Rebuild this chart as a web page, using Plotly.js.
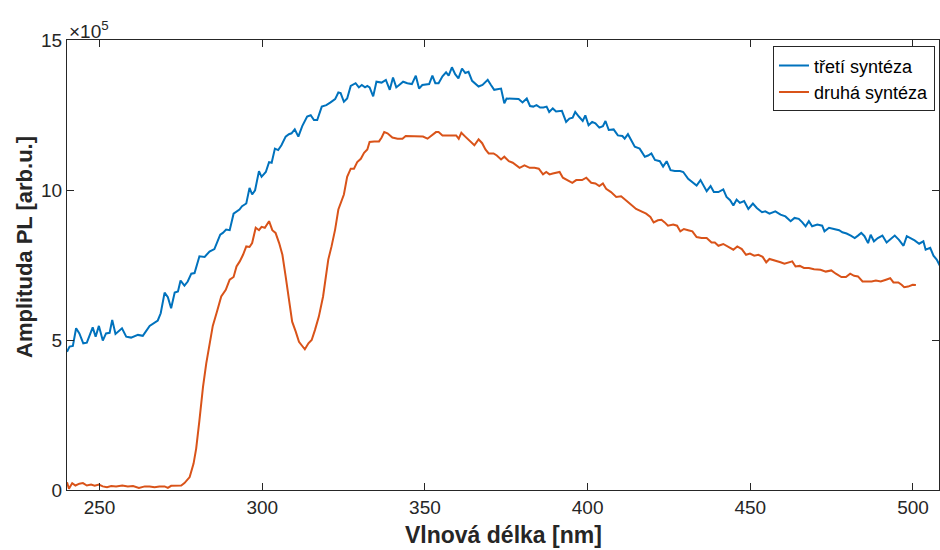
<!DOCTYPE html>
<html>
<head>
<meta charset="utf-8">
<script src="https://cdn.plot.ly/plotly-3.0.1.min.js"></script>
<style>html,body{margin:0;padding:0;background:#fff;}#chart{width:940px;height:550px;}</style>
</head>
<body>
<div id="chart"></div>
<script>
// Wavelength [nm] and PL amplitude (in units of 1e5, as labelled on the axis)
const xTreti = [240,240.8,241.8,242.8,243.8,245,246.1,247.9,248.8,249.8,251,252,253.1,253.9,254.9,256.9,258.2,259.7,261.8,263.3,265.4,267.9,268.8,270,271,272,273.1,274.1,274.9,276.1,277.1,278.2,279.2,280.7,282.3,283.8,285.3,287.1,287.9,288.9,290,291.2,293,
293.8,295.1,296.1,296.9,297.8,299,299.8,301.1,302.1,302.9,303.9,304.9,305.9,307.2,308.2,309,310,311.1,312.3,313.8,314.9,315.9,316.9,318.3,319.7,321,322.4,323.4,324.1,325.1,326.1,327.2,328.7,329.7,330.6,331.6,332.3,333,334.1,335.1,336.7,338,339.2,340.2,341.2,342.1,343.3,344.6,346,347.2,348.2,
349.2,350.5,351.3,352.3,353.2,354.2,355.4,356.5,357.3,358.3,359.3,360.3,361.4,362.4,363.4,364.5,365.5,366.5,367.7,369.3,370.3,371.3,373.4,374.4,375.1,376.9,378.8,380,381.3,382.3,383.3,384.3,385.4,386.4,387.4,388.2,389.3,390.3,392.1,393.4,394.4,395.4,396.2,397.3,398.5,399.3,400.3,401.4,402.4,403.6,
404.7,405.5,406.5,408,409.3,410.7,411.4,412.4,413.2,414.5,416,417.6,418.6,419.6,420.7,422.2,423.2,424.3,425.5,426.8,428.4,429.4,430.9,432.5,433.5,434.7,435.8,436.6,437.8,438.8,440.2,441.7,442.7,443.8,444.8,445.8,446.8,448.1,449.4,450.8,452,453.6,454.6,455.9,
457.7,459.3,460.8,462.4,463.6,464.9,466,467,468,469,470.6,472.1,472.8,474.2,475.7,477.3,478.3,479.6,480.9,482.1,483.1,484.1,485.1,486.2,487,488,489.2,490.6,491.9,493.4,494.4,495.7,497.1,498.1,499.3,500.5,501.9,503.2,503.9,505.3,506.3,507.3,508.4];
const yTreti = [4.61,4.78,4.8,5.39,5.22,4.89,4.91,5.42,5.11,5.47,4.98,5.22,5.24,5.67,5.2,5.39,5.11,5.08,5.17,5.14,5.47,5.65,5.89,6.58,6.43,6.06,6.58,6.62,6.98,6.81,6.95,7.21,7.23,7.79,7.77,7.95,8.03,8.51,8.57,8.68,8.66,9.21,9.35,
9.46,9.55,10.07,9.85,9.99,10.63,10.44,10.6,10.93,10.91,11.38,11.33,11.49,11.78,11.86,11.89,12.02,11.78,12.13,12.45,12.49,12.33,12.33,12.78,12.83,12.92,13.03,13.25,13.23,12.94,13.05,13.47,13.56,13.42,13.5,13.42,13.47,13.42,13.12,13.61,13.58,13.67,13.34,13.75,13.42,13.5,13.61,13.56,13.53,13.81,13.38,
13.5,13.53,13.53,13.81,13.56,13.56,13.79,13.92,13.81,14.09,13.86,13.72,14.05,13.9,13.94,13.64,13.56,13.45,13.5,13.67,13.5,13.34,13.38,12.89,13.05,13.05,13.03,12.92,13.05,12.8,12.78,12.83,12.75,12.75,12.78,12.6,12.72,12.62,12.64,12.27,12.38,12.41,12.6,12.45,12.3,12.49,12.16,12.27,12.22,12.08,
12.13,12.3,12.0,12.02,11.82,11.8,11.71,11.86,11.71,11.44,11.38,11.11,11.15,11.22,11.0,10.96,10.78,10.96,10.66,10.63,10.63,10.6,10.37,10.22,10.15,10.33,10.11,9.96,10.13,9.93,9.93,10.02,9.77,9.66,9.48,9.68,9.57,9.63,9.37,9.55,9.4,9.26,9.29,9.21,
9.29,9.18,9.12,8.96,9.07,9.04,8.92,8.79,8.96,8.79,8.85,8.81,8.62,8.74,8.7,8.66,8.59,8.55,8.48,8.4,8.48,8.57,8.46,8.23,8.51,8.29,8.4,8.48,8.25,8.4,8.48,8.34,8.14,8.46,8.4,8.32,8.21,8.29,8.01,8.07,7.81,7.68,7.45];

const xDruha = [240,240.6,241.6,242.6,243.8,244.9,246.1,247.4,248.5,249.8,251,252.3,253.6,255.1,257,258.7,260.3,262.1,263.9,265.4,266.9,268.4,270,271,272,273.6,275.1,276.1,277.7,278.9,279.7,280.7,281.8,282.8,283.8,284.8,286.1,287.4,288.8,290,291.2,292.1,293.1,
294.1,295.1,296.1,296.9,298,299,299.8,300.8,302.1,303.1,304.1,305.2,306.2,307.2,308.2,309.2,310.3,311.3,312.3,313.1,314.2,315.2,316.2,317.4,318.7,319.7,320.3,321.3,322.4,323.4,324.1,325.1,326.1,327.2,328.2,329.2,330.3,331.3,332.3,333,334.4,335.9,336.7,337.5,338.5,340,341.6,343.1,344.1,346.2,348.2,
349.4,350.8,352.1,353.4,354.2,355.4,357,358.5,359.6,360.4,361.2,362.4,363.7,365.2,366.5,367.6,368.6,369.6,371.1,372.1,373.4,374.4,375.8,377,379.1,380.6,382.2,383.7,385,386.3,387.3,388.3,389.3,391.4,392.4,393.9,395.3,396.5,398.3,399.6,401.1,402.4,403.6,
404.7,405.7,407.2,408.8,410.3,411.9,413.4,414.9,416.5,418,419.3,420.3,421.6,422.7,423.7,424.7,426.3,427.5,428.5,429.6,430.9,432.2,433.5,435,436.6,438.1,439.1,440.2,441.7,443.2,444.8,446,447.4,448.7,449.9,451.2,452.5,453.8,454.9,455.9,
457.7,459.3,460.5,461.8,462.9,463.9,465.2,466.5,468,469.6,471.6,473.2,474.9,476.3,478,479.4,480.7,481.9,483.1,484.5,486,487.3,488.6,490.1,491.7,493,494,495.5,496.5,497.3,498.5,499.9,500.9];
const yDruha = [0.26,0.04,0.23,0.15,0.21,0.23,0.15,0.18,0.14,0.18,0.12,0.09,0.13,0.12,0.15,0.12,0.13,0.07,0.12,0.12,0.09,0.12,0.12,0.07,0.14,0.14,0.15,0.23,0.43,0.88,1.38,2.32,3.44,4.22,4.89,5.47,5.95,6.45,6.67,7.01,7.1,7.45,7.62,
7.84,8.12,8.1,8.23,8.74,8.66,8.77,8.74,8.96,8.66,8.57,8.23,7.84,7.12,6.34,5.61,5.28,4.94,4.8,4.69,4.89,5.0,5.33,5.78,6.45,7.34,7.68,8.12,8.68,9.35,9.57,9.85,10.44,10.71,10.71,10.93,11.04,11.24,11.35,11.6,11.62,11.62,11.75,11.93,11.89,11.75,11.71,11.71,11.8,11.8,11.8,
11.78,11.71,11.82,11.93,11.93,11.82,11.82,11.82,11.82,11.71,11.91,11.78,11.63,11.49,11.69,11.56,11.35,11.22,11.22,11.15,11.02,11.11,10.96,10.91,10.74,10.82,10.74,10.74,10.71,10.52,10.6,10.52,10.55,10.6,10.41,10.33,10.24,10.33,10.33,10.41,10.24,10.22,10.13,
10.22,10.04,9.93,9.77,9.79,9.66,9.51,9.37,9.29,9.21,9.1,8.92,8.99,9.01,8.92,8.81,8.85,8.81,8.62,8.7,8.66,8.62,8.43,8.4,8.4,8.25,8.25,8.14,8.2,8.1,8.01,8.12,8.03,7.84,7.88,7.81,7.84,7.77,7.59,7.7,
7.65,7.59,7.54,7.59,7.62,7.45,7.47,7.4,7.4,7.36,7.34,7.28,7.32,7.21,7.1,7.1,7.21,7.14,7.12,6.95,6.95,6.95,6.98,6.95,7.01,7.06,6.92,6.92,6.84,6.76,6.78,6.84,6.83];

const seriesNames = ['třetí syntéza', 'druhá syntéza'];
const xTicks = [250, 300, 350, 400, 450, 500];
const yTicks = [0, 5, 10, 15];
const xTitle = 'Vlnová délka [nm]';
const yTitle = 'Amplituda PL [arb.u.]';
const exponentLabel = '×10<sup>5</sup>';

const axisColor = '#262626';
const fontFam = 'Liberation Sans, Arial, Helvetica, sans-serif';

const traces = [
  {x: xTreti, y: yTreti, name: seriesNames[0], type: 'scatter', mode: 'lines',
   line: {color: '#0072BD', width: 2}},
  {x: xDruha, y: yDruha, name: seriesNames[1], type: 'scatter', mode: 'lines',
   line: {color: '#D95319', width: 2}}
];

const commonAxis = {
  showgrid: false, zeroline: false, showline: true, mirror: 'ticks',
  linecolor: axisColor, linewidth: 1, ticks: 'inside', ticklen: 7, tickwidth: 1,
  tickcolor: axisColor, tickfont: {family: fontFam, size: 19, color: axisColor}
};

const layout = {
  width: 940, height: 550,
  margin: {l: 67, r: 1, t: 40, b: 60},
  paper_bgcolor: '#ffffff', plot_bgcolor: '#ffffff',
  font: {family: fontFam, color: axisColor},
  showlegend: true,
  legend: {x: 0.9954, y: 0.986, xanchor: 'right', yanchor: 'top',
    bgcolor: '#ffffff', bordercolor: axisColor, borderwidth: 1,
    font: {family: fontFam, size: 18, color: '#000000'},
    itemwidth: 30, tracegroupgap: 0},
  xaxis: Object.assign({}, commonAxis, {
    range: [240, 508], tickmode: 'array', tickvals: xTicks,
    ticktext: xTicks.map(String)
  }),
  yaxis: Object.assign({}, commonAxis, {
    range: [0, 15], tickmode: 'array', tickvals: yTicks,
    ticktext: yTicks.map(String)
  }),
  annotations: [
    {text: exponentLabel, xref: 'paper', yref: 'paper', x: 0, y: 1,
     xanchor: 'left', yanchor: 'bottom', showarrow: false, yshift: -4,
     font: {family: fontFam, size: 19, color: axisColor}},
    {text: '<b>' + xTitle + '</b>', xref: 'paper', yref: 'paper', x: 0.5, y: 0,
     xanchor: 'center', yanchor: 'middle', showarrow: false, yshift: -45,
     font: {family: fontFam, size: 23, color: axisColor}},
    {text: '<b>' + yTitle + '</b>', xref: 'paper', yref: 'paper', x: 0, y: 0.54,
     xanchor: 'center', yanchor: 'middle', showarrow: false, xshift: -42, textangle: -90,
     font: {family: fontFam, size: 22, color: axisColor}}
  ]
};

Plotly.newPlot('chart', traces, layout, {displayModeBar: false, staticPlot: true});
</script>
</body>
</html>
